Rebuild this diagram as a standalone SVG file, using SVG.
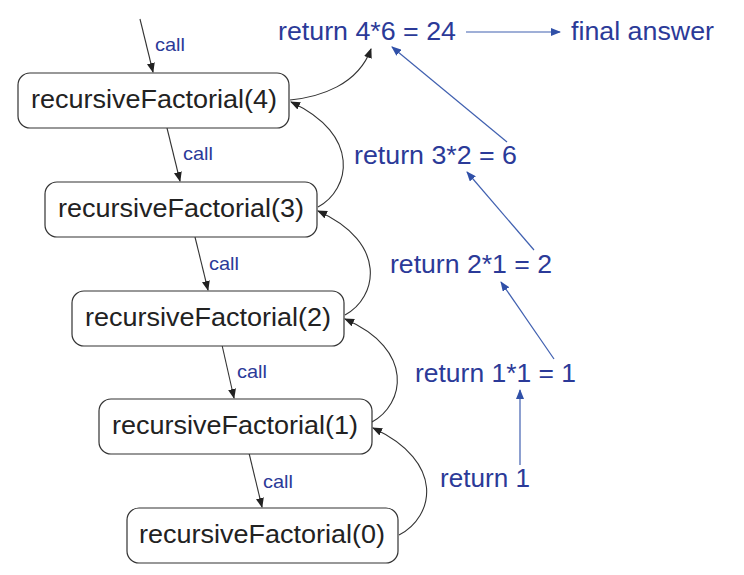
<svg xmlns="http://www.w3.org/2000/svg" width="744" height="575" viewBox="0 0 744 575">
<defs>
<style>
.box{fill:#fff;stroke:#333;stroke-width:1.2}
.bt{font-family:"Liberation Sans",Arial,sans-serif;font-size:25px;fill:#222;text-anchor:middle}
.bl{font-family:"Liberation Sans",Arial,sans-serif;font-size:25px;fill:#2b3a98}
.call{font-family:"Liberation Sans",Arial,sans-serif;font-size:19px;fill:#2b3a98}
.k{fill:none;stroke:#333;stroke-width:1.1}
.b{fill:none;stroke:#4060b0;stroke-width:1.2}
</style>
<marker id="ak" markerWidth="10" markerHeight="8" refX="9" refY="4" orient="auto" markerUnits="userSpaceOnUse"><path d="M0,0 L10,4 L0,8 z" fill="#222"/></marker>
<marker id="ab" markerWidth="10" markerHeight="8" refX="9" refY="4" orient="auto" markerUnits="userSpaceOnUse"><path d="M0,0 L10,4 L0,8 z" fill="#3050a8"/></marker>
</defs>
<rect width="744" height="575" fill="#fff"/>
<g id="connectors">
<line class="k" x1="140" y1="19" x2="153" y2="72" marker-end="url(#ak)"/>
<line class="k" x1="167" y1="128" x2="180" y2="181" marker-end="url(#ak)"/>
<line class="k" x1="195" y1="237" x2="208" y2="290" marker-end="url(#ak)"/>
<line class="k" x1="222" y1="345" x2="234" y2="398" marker-end="url(#ak)"/>
<line class="k" x1="249" y1="453" x2="262" y2="507" marker-end="url(#ak)"/>
<path class="k" d="M290,100 C320,97 358,85 371,49" marker-end="url(#ak)"/>
<path class="k" d="M318,207 C350,190 362,135 291,102" marker-end="url(#ak)"/>
<path class="k" d="M345,315 C377,298 389,243 318,211" marker-end="url(#ak)"/>
<path class="k" d="M372,422 C404,405 416,350 345,319" marker-end="url(#ak)"/>
<path class="k" d="M399,535 C434,517 446,462 373,428" marker-end="url(#ak)"/>
<line class="b" x1="466" y1="32" x2="560" y2="32" marker-end="url(#ab)"/>
<line class="b" x1="507" y1="142" x2="392" y2="47" marker-end="url(#ab)"/>
<line class="b" x1="534" y1="250" x2="467" y2="172" marker-end="url(#ab)"/>
<line class="b" x1="554" y1="359" x2="501" y2="282" marker-end="url(#ab)"/>
<line class="b" x1="520" y1="465" x2="520" y2="390" marker-end="url(#ab)"/>
<text class="call" x="155" y="51" textLength="30" lengthAdjust="spacingAndGlyphs">call</text>
<text class="call" x="183" y="160" textLength="30" lengthAdjust="spacingAndGlyphs">call</text>
<text class="call" x="209" y="270" textLength="30" lengthAdjust="spacingAndGlyphs">call</text>
<text class="call" x="237" y="378" textLength="30" lengthAdjust="spacingAndGlyphs">call</text>
<text class="call" x="263" y="488" textLength="30" lengthAdjust="spacingAndGlyphs">call</text>
</g>
<g id="rf4"><rect class="box" x="18" y="73" width="271" height="55" rx="12"/><text class="bt" x="154" y="108" textLength="246" lengthAdjust="spacingAndGlyphs">recursiveFactorial(4)</text></g>
<g id="rf3"><rect class="box" x="45" y="182" width="272" height="55" rx="12"/><text class="bt" x="181" y="217" textLength="246" lengthAdjust="spacingAndGlyphs">recursiveFactorial(3)</text></g>
<g id="rf2"><rect class="box" x="72" y="291" width="272" height="55" rx="12"/><text class="bt" x="208" y="326" textLength="246" lengthAdjust="spacingAndGlyphs">recursiveFactorial(2)</text></g>
<g id="rf1"><rect class="box" x="99" y="399" width="273" height="55" rx="12"/><text class="bt" x="235" y="434" textLength="246" lengthAdjust="spacingAndGlyphs">recursiveFactorial(1)</text></g>
<g id="rf0"><rect class="box" x="127" y="508" width="271" height="55" rx="12"/><text class="bt" x="262" y="543" textLength="246" lengthAdjust="spacingAndGlyphs">recursiveFactorial(0)</text></g>
<g id="ret24"><text class="bl" x="278" y="40" textLength="178" lengthAdjust="spacingAndGlyphs">return 4*6 = 24</text></g>
<g id="final"><text class="bl" x="571" y="40" textLength="143" lengthAdjust="spacingAndGlyphs">final answer</text></g>
<g id="ret6"><text class="bl" x="354" y="164" textLength="163" lengthAdjust="spacingAndGlyphs">return 3*2 = 6</text></g>
<g id="ret2"><text class="bl" x="390" y="273" textLength="162" lengthAdjust="spacingAndGlyphs">return 2*1 = 2</text></g>
<g id="ret1b"><text class="bl" x="415" y="382" textLength="161" lengthAdjust="spacingAndGlyphs">return 1*1 = 1</text></g>
<g id="ret1"><text class="bl" x="440" y="487" textLength="90" lengthAdjust="spacingAndGlyphs">return 1</text></g>
</svg>
